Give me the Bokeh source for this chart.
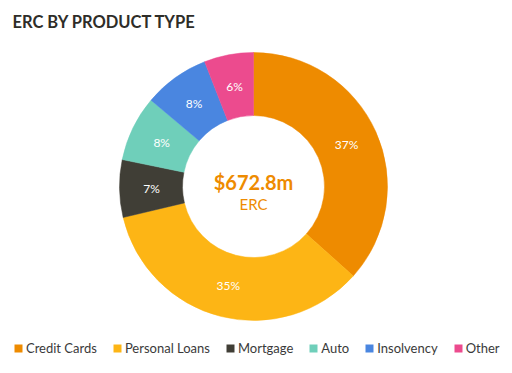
import numpy as np
from bokeh.plotting import figure
from bokeh.models import Range1d, Label, Legend, LegendItem, ColumnDataSource
from bokeh.embed import file_html
from bokeh.resources import INLINE

categories = ["Credit Cards", "Personal Loans", "Mortgage", "Auto", "Insolvency", "Other"]
shares = [37, 35, 7, 8, 8, 6]
pct_labels = ["37%", "35%", "7%", "8%", "8%", "6%"]
colors = ["#EE8B00", "#FDB515", "#403E36", "#6FCFBA", "#4A86E0", "#EC4B8E"]
total_text = "$672.8m"
total_sub = "ERC"
title_text = "ERC BY PRODUCT TYPE"

W, H = 512, 373
cx, cy = 253, H - 186
r_out, r_in, r_lab = 134, 71, 102

frac = np.array(shares, dtype=float) / sum(shares)
cum = np.concatenate([[0], np.cumsum(frac)])
start = np.pi / 2 - 2 * np.pi * cum[:-1]
end = np.pi / 2 - 2 * np.pi * cum[1:]
mid = (start + end) / 2

src = ColumnDataSource(dict(
    x=[cx] * len(categories), y=[cy] * len(categories),
    start=start, end=end, color=colors,
    lx=cx + r_lab * np.cos(mid), ly=cy + r_lab * np.sin(mid), lab=pct_labels,
))

p = figure(width=W, height=H, output_backend="svg", toolbar_location=None,
           x_range=Range1d(0, W), y_range=Range1d(0, H), min_border=0)
p.axis.visible = False
p.grid.visible = False
p.outline_line_color = None

p.annular_wedge(x="x", y="y", inner_radius=r_in, outer_radius=r_out,
                inner_radius_units="screen", outer_radius_units="screen",
                start_angle="start", end_angle="end", direction="clock",
                fill_color="color", line_color="color", line_width=0.5, source=src)
p.text(x="lx", y="ly", text="lab", source=src, text_color="white",
       text_font_size="12px", text_align="center", text_baseline="middle",
       text_font={"value": "Lato"})

p.add_layout(Label(x=cx, y=cy + 5, text=total_text, text_color="#EE8B00",
                   text_font="Lato", text_font_style="bold", text_font_size="20px",
                   text_align="center", text_baseline="middle"))
p.add_layout(Label(x=cx, y=cy - 17, text=total_sub, text_color="#EE8B00",
                   text_font="Lato", text_font_size="15px",
                   text_align="center", text_baseline="middle"))
p.add_layout(Label(x=12, y=H - 21, text=title_text, text_color="#2E2D28",
                   text_font="Lato", text_font_style="bold", text_font_size="16.5px",
                   text_align="left", text_baseline="middle"))

items = []
for c, col in zip(categories, colors):
    r = p.quad(left=[-1000], right=[-999], bottom=[-1000], top=[-999],
               fill_color=col, line_color=None)
    items.append(LegendItem(label=c, renderers=[r]))
leg = Legend(items=items, orientation="horizontal", location=(13, 15),
             border_line_color=None, background_fill_alpha=0,
             padding=0, margin=0, spacing=15, label_standoff=3,
             glyph_width=10, glyph_height=10, label_height=20,
             label_text_font="Lato", label_text_font_size="13px",
             label_text_color="#3A3A3A")
p.add_layout(leg)

open("out.html", "w").write(file_html(p, INLINE))
